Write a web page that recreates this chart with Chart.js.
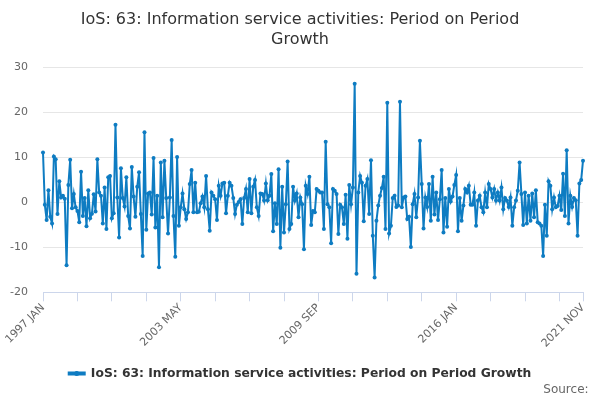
<!DOCTYPE html>
<html>
<head>
<meta charset="utf-8">
<script src="https://cdn.jsdelivr.net/npm/chart.js@4/dist/chart.umd.min.js"></script>
<style>
  body { margin: 0; background: #fff; }
</style>
</head>
<body>
<canvas id="graficoIoS" width="600" height="400"></canvas>
<script>
// Dados mensais: jan 1997 ate nov 2021
const startYear = 1997;
const monthNames = ["JAN", "FEB", "MAR", "APR", "MAY", "JUN", "JUL", "AUG", "SEP", "OCT", "NOV", "DEC"];
const shownLabels = ["1997 JAN", "2003 MAY", "2009 SEP", "2016 JAN", "2021 NOV"];
const seriesName = "IoS: 63: Information service activities: Period on Period Growth";
const growth = [
  11.1, -0.5, -3.9, 2.7, -3.2, -4.7, 10.2, 9.6, -2.6, 4.7, 1.1, 1.5, 0.8, -14.0,
  3.9, 9.5, -1.3, 1.9, -1.1, -1.9, -4.4, 6.8, -3.0, 1.0, -5.3, 2.7, -3.5, -2.5, 1.8, -2.0,
  9.6, 2.2, 1.5, -4.7, 3.3, -5.9, 5.6, 5.9, -3.5, -2.4, 17.3,
  1.1, -7.8, 7.6, 1.0, -0.9, 5.6, -3.0, -5.8, 7.9, 1.3, -3.2, 3.5, 6.7, -2.6, -11.9, 15.6,
  -6.1, 2.0, 2.2, -2.7, 9.9, -5.6, 1.5, -14.4,
  8.9, -3.3, 9.3, 1.0, -6.9, 1.1, 13.9,
  -3.0, -12.1, 10.1, -5.2, -1.1, 2.0, -1.5, -3.7, -2.2, 4.1, 7.2, -2.2, 4.4, -2.2, -2.1, -0.2, 1.3, -1.1, 5.9,
  -1.5, -6.3, 2.2, 1.5, 0.7, -3.9, 3.7, 1.5, 4.2, 4.4, -2.4, 1.5, 4.4, 3.7, 1.0, -2.6, -0.5, 0.1, 0.7, -4.8, 1.0, 3.0, -2.2, 5.2, -2.4, 3.5,
  5.0, -1.1, -3.0, 2.0, 1.9, 0.4, 4.2, 0.5, 1.5, 6.3, -6.4, -0.2, -4.8, 7.4,
  -10.1, 3.5, -6.7, -0.4, 9.1, -5.9, -4.8, 3.5, 0.4, 2.0, -3.3, 1.1, -0.4, -10.4,
  3.7, 1.9, 5.7, -5.0, -1.9, -2.2, 3.0, 2.6, 2.2, 2.2, -5.9, 13.5,
  -0.4, -1.1, -9.1, 3.0, 2.6, 1.9, -7.0, -0.5, -1.1, -4.8, 1.7, -8.1, 3.9, -0.4, 3.3, 26.4, -15.9,
  2.2, 5.9, 4.4, -4.2, 3.7, 5.2, -2.6, 9.4, -7.4, -16.7,
  -4.1, -0.7, 1.5, 3.2, 5.7, -5.9, 22.2,
  -6.9, -5.2, 1.0, 1.5, -1.0, -0.7, 22.4, -1.1, 1.1, 1.3, -3.7, -3.2, -9.9, -0.4, 1.9, -3.3, 1.1, 13.7,
  4.1, -5.8, 1.1, -1.0, 4.1, -4.1, 5.7, -2.7, 2.2, -3.9, 0.7, 7.2, -6.7, 1.0, -5.4, 3.0, 0.2, 1.3, 3.9, 6.1,
  -6.4, 1.0, -4.1, -0.7, 3.0, 2.2, 3.7, -0.5, -0.5, 2.2, -5.2, 0.4, 1.5,
  -1.1, -2.2, 2.2, -1.1, 4.1, 3.0, 1.1, 3.0, 0.4, 2.2, 0.4, 3.3, -1.5, 1.0, 0.4, -1.0, 1.1, -5.2, -1.1, 0.4, 2.6,
  8.9, 1.9, -5.0, 2.2, -4.7, 1.5, -4.1, 2.0, -3.3, 2.7, -4.4, -4.7, -5.2, -11.9,
  -0.5, -7.4, 4.7, 3.7, -1.5, 1.1, -1.1, -0.8, 1.5, -1.7, 6.4, -3.0, 11.6, -4.7, 1.5, -1.0, 1.0, 0.5, -7.4, 4.2, 5.0, 9.3
];

const categories = growth.map((v, i) => (startYear + Math.floor(i / 12)) + " " + monthNames[i % 12]);
const lineColor = "#0e7cc2";

Chart.defaults.font.family = "'DejaVu Sans', sans-serif";

// ponto no meio do simbolo da legenda
const legendDot = {
  id: "legendDot",
  afterDraw(chart) {
    const boxes = chart.legend && chart.legend.legendHitBoxes;
    if (!boxes || !boxes.length) return;
    const b = boxes[0];
    const ctx = chart.ctx;
    ctx.save();
    ctx.fillStyle = lineColor;
    ctx.beginPath();
    ctx.arc(b.left + 8, b.top + b.height / 2, 2.5, 0, Math.PI * 2);
    ctx.fill();
    ctx.restore();
  }
};

new Chart(document.getElementById("graficoIoS").getContext("2d"), {
  type: "line",
  data: {
    labels: categories,
    datasets: [{
      label: seriesName,
      data: growth,
      borderColor: lineColor,
      backgroundColor: lineColor,
      borderWidth: 2,
      pointRadius: 2,
      pointBorderWidth: 0,
      pointBackgroundColor: lineColor,
      tension: 0
    }]
  },
  options: {
    responsive: false,
    animation: false,
    layout: { padding: 0 },
    scales: {
      x: {
        grid: {
          drawOnChartArea: false,
          tickLength: 9,
          color: (c) => (c.index % 19 === 0 || c.index === growth.length - 1) ? "#ccd6eb" : "rgba(0,0,0,0)"
        },
        border: { color: "#ccd6eb" },
        ticks: {
          autoSkip: false,
          minRotation: 45,
          maxRotation: 45,
          padding: 0,
          color: "#666",
          font: { size: 11 },
          callback: function (value, index) {
            const lab = categories[index];
            return shownLabels.includes(lab) ? lab : "";
          }
        },
        afterFit: (s) => { s.height = 73; }
      },
      y: {
        min: -20,
        max: 30,
        ticks: { stepSize: 10, color: "#666", font: { size: 11 }, padding: 15 },
        grid: { color: "#e6e6e6", drawTicks: false },
        border: { display: false },
        afterFit: (s) => { s.width = 43; }
      },
      yr: {
        position: "right",
        display: true,
        grid: { display: false },
        border: { display: false },
        ticks: { display: false },
        afterFit: (s) => { s.width = 17; }
      }
    },
    plugins: {
      title: {
        display: true,
        text: ["IoS: 63: Information service activities: Period on Period", "Growth"],
        color: "#333",
        font: { size: 16, weight: "normal", lineHeight: 1.3 },
        padding: { top: 9, bottom: 17 }
      },
      subtitle: {
        display: true,
        text: "Source:\u00a0\u00a0\u00a0",
        position: "bottom",
        align: "end",
        color: "#666",
        font: { size: 12, weight: "normal" },
        padding: { top: -7, bottom: 3 }
      },
      legend: {
        position: "bottom",
        labels: {
          color: "#333",
          font: { size: 12.3, weight: "bold" },
          boxWidth: 16,
          boxHeight: 2,
          padding: 2
        }
      },
      tooltip: { enabled: false }
    }
  },
  plugins: [legendDot]
});
</script>
</body>
</html>
